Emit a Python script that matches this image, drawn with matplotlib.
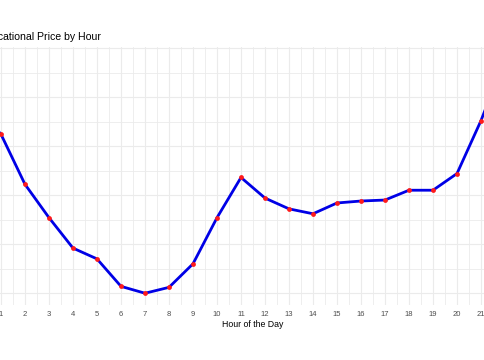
import matplotlib
matplotlib.use("Agg")
import matplotlib.pyplot as plt
from matplotlib.ticker import MultipleLocator

# hourly average price (hours 0, 22, 23 sit mostly off the crop)
hours = list(range(24))
price = [44.0, 41.2, 36.1, 32.7, 29.6, 28.5, 25.7, 25.0, 25.6, 28.0, 32.7, 36.8,
         34.7, 33.6, 33.1, 34.2, 34.4, 34.5, 35.5, 35.5, 37.2, 42.6, 48.9, 46.0]
xtick_labels = [str(h) for h in hours]

title = "Average Locational Price by Hour"
xlabel = "Hour of the Day"

plt.rcParams['font.family'] = ['Liberation Sans', 'DejaVu Sans']

W, H = 485, 360
fig = plt.figure(figsize=(W / 100, H / 100), dpi=100)

# panel is wider than the crop: x=-1.15 at -50.6px, x=24.15 at 556.6px
left_px, right_px = -50.6, 556.6
top_px, bottom_px = 47, 305
ax = fig.add_axes([left_px / W, 1 - bottom_px / H,
                   (right_px - left_px) / W, (bottom_px - top_px) / H])

grid_col = '#ebebeb'
ax.set_xlim(-1.15, 24.15)
ax.set_ylim(23.8, 50.1)
ax.xaxis.set_major_locator(MultipleLocator(1))
ax.xaxis.set_minor_locator(MultipleLocator(0.5))
ax.yaxis.set_major_locator(MultipleLocator(5))
ax.yaxis.set_minor_locator(MultipleLocator(2.5))
ax.grid(which='major', color=grid_col, linewidth=0.8)
ax.grid(which='minor', color=grid_col, linewidth=0.6)
ax.set_axisbelow(True)
for s in ax.spines.values():
    s.set_visible(False)

ax.plot(hours, price, color='#0000e6', linewidth=2.0, zorder=3)
ax.scatter(hours, price, color='#ff1a1a', s=12, zorder=4, linewidths=0)

ax.set_xticks(hours)
ax.set_xticklabels(xtick_labels)
ax.tick_params(which='both', length=0)
ax.tick_params(axis='x', labelsize=5.5, labelcolor='#4d4d4d', pad=4)
ax.tick_params(axis='y', labelleft=False)
ax.set_xlabel(xlabel, fontsize=6.3, color='black', labelpad=2)

# title is left-aligned off the crop, so only "...cational Price by Hour" shows
fig.text(-56 / W, 1 - 37 / H, title, fontsize=7.6, color='black',
         ha='left', va='center')

fig.savefig('out.png', dpi=100)
